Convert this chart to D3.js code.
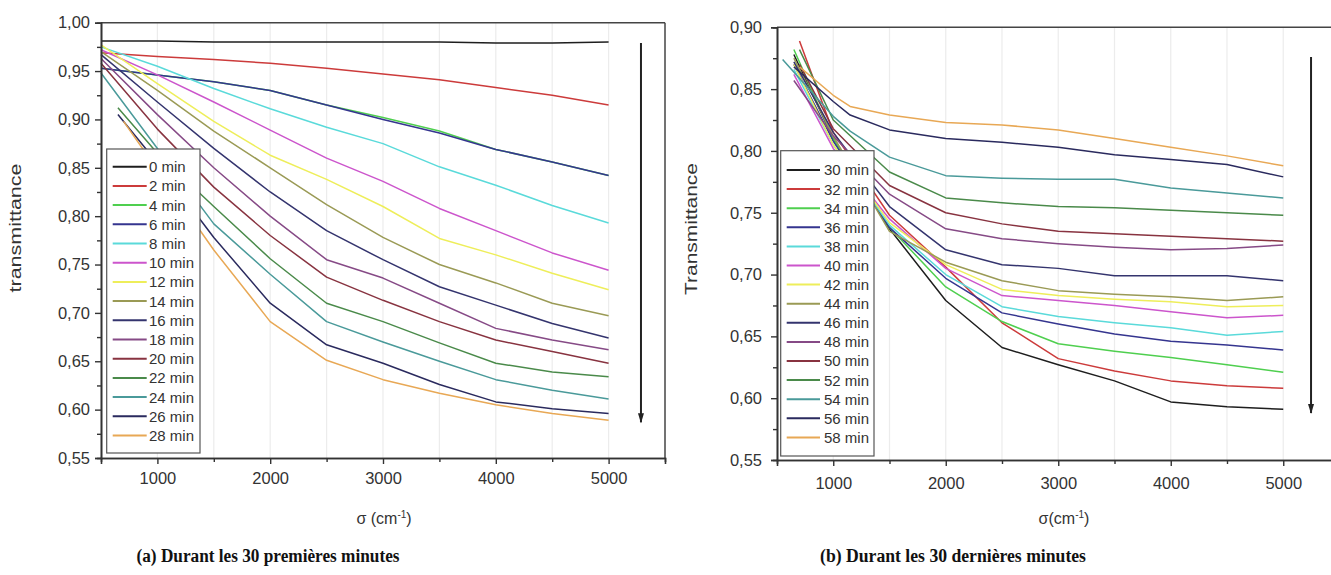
<!DOCTYPE html>
<html><head><meta charset="utf-8">
<script src="https://cdn.jsdelivr.net/npm/d3@7"></script>
<style>
body{margin:0;background:#fff;}
text{fill:#333;}
</style></head>
<body><svg id="c" width="1331" height="575"></svg>
<script>
// ---------- Data: (a) first 30 minutes ----------
const sigmaA = [500, 650, 700, 1000, 1500, 2000, 2500, 3000, 3500, 4000, 4500, 5000];
const labelsA = ["0 min","2 min","4 min","6 min","8 min","10 min","12 min","14 min","16 min","18 min","20 min","22 min","24 min","26 min","28 min"];
const tA0  = [0.981,null,null,0.981,0.980,0.980,0.980,0.980,0.980,0.979,0.979,0.980];
const tA2  = [0.969,null,null,0.965,0.962,0.958,0.953,0.947,0.941,0.933,0.925,0.915];
const tA4  = [0.953,null,null,0.946,0.939,0.930,0.915,0.902,0.888,0.869,0.856,0.842];
const tA6  = [0.953,null,null,0.946,0.939,0.930,0.915,0.900,0.886,0.869,0.856,0.842];
const tA8  = [0.975,null,null,0.955,0.932,0.911,0.892,0.875,0.851,0.832,0.811,0.793];
const tA10 = [0.972,null,null,0.946,0.918,0.889,0.860,0.836,0.808,0.785,0.762,0.744];
const tA12 = [0.977,null,null,0.937,0.898,0.863,0.838,0.810,0.777,0.760,0.741,0.724];
const tA14 = [0.970,null,null,0.930,0.888,0.850,0.812,0.778,0.750,0.731,0.710,0.697];
const tA16 = [0.967,null,null,0.918,0.870,0.825,0.785,0.755,0.727,0.708,0.689,0.674];
const tA18 = [0.963,null,null,0.905,0.850,0.800,0.755,0.736,0.710,0.684,0.672,0.662];
const tA20 = [0.958,null,null,0.890,0.830,0.780,0.737,0.713,0.691,0.672,0.660,0.648];
const tA22 = [null,0.912,null,0.865,0.810,0.756,0.710,0.691,0.669,0.648,0.639,0.634];
const tA24 = [0.948,null,null,0.870,0.792,0.740,0.691,0.670,0.650,0.631,0.620,0.611];
const tA26 = [null,0.905,null,0.855,0.778,0.710,0.667,0.648,0.626,0.608,0.601,0.596];
const tA28 = [null,null,0.898,0.848,0.765,0.691,0.651,0.631,0.617,0.605,0.596,0.589];
const seriesA = [tA0,tA2,tA4,tA6,tA8,tA10,tA12,tA14,tA16,tA18,tA20,tA22,tA24,tA26,tA28];

// ---------- Data: (b) last 30 minutes ----------
const sigmaB = [550, 650, 700, 1000, 1150, 1500, 2000, 2500, 3000, 3500, 4000, 4500, 5000];
const labelsB = ["30 min","32 min","34 min","36 min","38 min","40 min","42 min","44 min","46 min","48 min","50 min","52 min","54 min","56 min","58 min"];
const tB30 = [null,0.878,null,0.810,null,0.737,0.679,0.641,0.627,0.614,0.597,0.593,0.591];
const tB32 = [null,null,0.889,0.815,null,0.748,0.706,0.661,0.632,0.622,0.614,0.610,0.608];
const tB34 = [null,0.882,null,0.810,null,0.738,0.690,0.662,0.644,0.638,0.633,0.627,0.621];
const tB36 = [null,0.870,null,0.808,null,0.738,0.697,0.669,0.660,0.652,0.646,0.643,0.639];
const tB38 = [null,0.866,null,0.805,null,0.740,0.700,0.674,0.666,0.661,0.657,0.651,0.654];
const tB40 = [null,0.862,null,0.802,null,0.745,0.705,0.683,0.679,0.675,0.670,0.665,0.667];
const tB42 = [null,0.870,null,0.805,null,0.742,0.708,0.688,0.683,0.680,0.678,0.674,0.675];
const tB44 = [null,0.875,null,0.812,null,0.735,0.710,0.695,0.687,0.684,0.682,0.679,0.682];
const tB46 = [null,0.872,null,0.815,null,0.755,0.720,0.708,0.705,0.699,0.699,0.699,0.695];
const tB48 = [null,0.857,null,0.812,null,0.765,0.737,0.729,0.725,0.722,0.720,0.721,0.724];
const tB50 = [null,null,0.870,0.818,null,0.772,0.750,0.741,0.735,0.733,0.731,0.729,0.727];
const tB52 = [null,null,0.882,0.825,null,0.783,0.762,0.758,0.755,0.754,0.752,0.750,0.748];
const tB54 = [0.874,null,null,0.828,0.816,0.795,0.780,0.778,0.777,0.777,0.770,0.766,0.762];
const tB56 = [null,0.868,null,0.840,0.829,0.817,0.810,0.807,0.803,0.797,0.793,0.789,0.779];
const tB58 = [null,null,0.868,0.845,0.836,0.829,0.823,0.821,0.817,0.810,0.803,0.796,0.788];
const seriesB = [tB30,tB32,tB34,tB36,tB38,tB40,tB42,tB44,tB46,tB48,tB50,tB52,tB54,tB56,tB58];

const colors = ["#1e1e1e","#cc3b3b","#4fcf4f","#35358f","#5adada","#cc55cc","#eeee5a","#9a9a55",
                "#34346e","#864a86","#883340","#4a8a4a","#4a9a9a","#2a2a5e","#e8a855"];

const xTicksMajor = [1000, 2000, 3000, 4000, 5000];
const yTicksA = [0.55,0.60,0.65,0.70,0.75,0.80,0.85,0.90,0.95,1.00];
const yTicksB = [0.55,0.60,0.65,0.70,0.75,0.80,0.85,0.90];

const SANS = '"Liberation Sans", Arial, sans-serif';
const SERIF = '"Liberation Serif", "Times New Roman", serif';
const svg = d3.select("#c");
const fmt = d => d3.format(".2f")(d).replace(".", ",");

function drawChart(cfg){
  const g = svg.append("g");
  const x = d3.scaleLinear().domain([500,5500]).range(cfg.xr);
  const y = d3.scaleLinear().domain(cfg.yd).range(cfg.yr);
  const [x0,x1] = cfg.xr, [yb,yt] = cfg.yr;

  g.selectAll(".grid").data(d3.range(1000,5001,500)).join("line")
    .attr("x1",d=>x(d)).attr("x2",d=>x(d)).attr("y1",yb).attr("y2",yt)
    .attr("stroke","#ececec").attr("stroke-width",1.2);

  g.append("line").attr("x1",x0).attr("x2",x1).attr("y1",yt).attr("y2",yt).attr("stroke","#444").attr("stroke-width",1.5);
  g.append("line").attr("x1",x1).attr("x2",x1).attr("y1",yt).attr("y2",yb).attr("stroke","#444").attr("stroke-width",1.5);

  const line = d3.line().x(d=>x(d[0])).y(d=>y(d[1]));
  cfg.series.forEach((s,i)=>{
    const pts = cfg.sigma.map((sg,j)=>[sg,s[j]]).filter(p=>p[1]!=null);
    g.append("path").attr("d",line(pts)).attr("fill","none")
      .attr("stroke",colors[i]).attr("stroke-width",1.5).attr("stroke-linejoin","round");
  });

  const xAx = g.append("g").attr("transform",`translate(0,${yb})`)
    .call(d3.axisBottom(x).tickValues(xTicksMajor).tickFormat(d3.format("d")).tickSize(6).tickPadding(cfg.xpad));
  const xMin = g.append("g").attr("transform",`translate(0,${yb})`)
    .call(d3.axisBottom(x).tickValues([1500,2500,3500,4500]).tickFormat("").tickSize(4));
  const yAx = g.append("g").attr("transform",`translate(${x0},0)`)
    .call(d3.axisLeft(y).tickValues(cfg.yTicks).tickFormat(fmt).tickSize(6).tickPadding(cfg.ypad));
  const minors = cfg.yTicks.slice(0,-1).map(v=>v+0.025);
  const yMin = g.append("g").attr("transform",`translate(${x0},0)`)
    .call(d3.axisLeft(y).tickValues(minors).tickFormat("").tickSize(4));
  [xAx,xMin,yAx,yMin].forEach(a=>{
    a.selectAll(".domain").attr("stroke","#333").attr("stroke-width",1.6);
    a.selectAll(".tick line").attr("stroke","#333").attr("stroke-width",1.4);
    a.selectAll("text").style("font-size","16.5px").style("fill","#333").style("font-family",SANS);
  });

  const L = cfg.legend;
  g.append("rect").attr("x",L.x).attr("y",L.y).attr("width",L.w).attr("height",L.h)
    .attr("fill","#fff").attr("stroke","#555").attr("stroke-width",1.2);
  cfg.labels.forEach((lab,i)=>{
    const yy = L.first + i*L.step;
    g.append("line").attr("x1",L.lx1).attr("x2",L.lx2).attr("y1",yy).attr("y2",yy)
      .attr("stroke",colors[i]).attr("stroke-width",2);
    g.append("text").attr("x",L.tx).attr("y",yy).attr("dy","0.36em")
      .style("font-family",SANS).style("font-size","15px").text(lab);
  });

  const ax = x(cfg.arrow.s);
  const ya = y(cfg.arrow.from), yz = y(cfg.arrow.to);
  g.append("line").attr("x1",ax).attr("x2",ax).attr("y1",ya).attr("y2",yz)
    .attr("stroke","#222").attr("stroke-width",2);
  const dir = yz>ya ? 1 : -1;
  g.append("path").attr("d",`M${ax-3},${yz-dir*9} L${ax},${yz+dir*1} L${ax+3},${yz-dir*9} Z`).attr("fill","#222");

  g.append("text").attr("transform",`translate(${cfg.ytitle.x},${cfg.ytitle.y}) rotate(-90)`)
    .attr("text-anchor","middle").style("font-family",SANS).style("font-size","17px")
    .attr("textLength",cfg.ytitle.len).attr("lengthAdjust","spacingAndGlyphs").text(cfg.ytitle.text);
  const xt = g.append("text").attr("x",cfg.xtitle.x).attr("y",cfg.xtitle.y)
    .attr("text-anchor","middle").style("font-family",SANS).style("font-size","16px");
  xt.append("tspan").text(cfg.xtitle.text);
  xt.append("tspan").attr("dy",-6).style("font-size","10px").text("-1");
  xt.append("tspan").attr("dy",6).text(")");

  svg.append("text").attr("x",cfg.caption.x).attr("y",cfg.caption.y).attr("text-anchor","middle")
    .style("font-family",SERIF).style("font-weight","bold")
    .style("font-size","18px").style("fill","#111").attr("textLength",cfg.caption.len)
    .attr("lengthAdjust","spacingAndGlyphs").text(cfg.caption.text);
}

drawChart({
  xr:[101,665], yd:[0.55,1.00], yr:[458,22.7], yTicks:yTicksA, xpad:8, ypad:5,
  sigma:sigmaA, series:seriesA, labels:labelsA,
  legend:{x:106.7,y:149,w:93.3,h:304,first:166.7,step:19.2,lx1:112.7,lx2:146.7,tx:149},
  arrow:{s:5287,from:0.979,to:0.587},
  ytitle:{x:21,y:228,len:129,text:"transmittance"},
  xtitle:{x:384,y:524,text:"σ (cm"},
  caption:{x:268,y:562,len:263,text:"(a) Durant les 30 premières minutes"}
});
drawChart({
  xr:[777,1339.5], yd:[0.55,0.90], yr:[460,27.3], yTicks:yTicksB, xpad:11, ypad:9,
  sigma:sigmaB, series:seriesB, labels:labelsB,
  legend:{x:780.7,y:150.7,w:93.3,h:305.3,first:170,step:19.1,lx1:786.7,lx2:820,tx:824},
  arrow:{s:5247,from:0.876,to:0.588},
  ytitle:{x:697,y:229,len:132,text:"Transmittance"},
  xtitle:{x:1064,y:524,text:"σ(cm"},
  caption:{x:953,y:562,len:266,text:"(b) Durant les 30 dernières minutes"}
});
</script></body></html>
